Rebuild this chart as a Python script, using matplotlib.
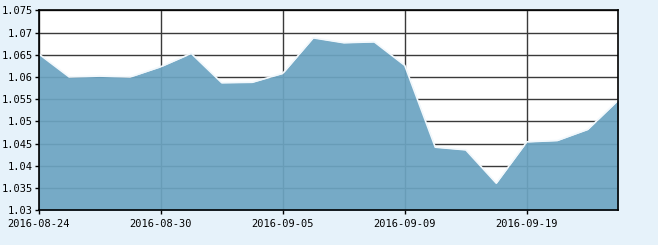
import matplotlib
matplotlib.use("Agg")
import matplotlib.pyplot as plt
from matplotlib.ticker import FuncFormatter, MultipleLocator

dates = ["2016-08-24", "2016-08-25", "2016-08-26", "2016-08-29", "2016-08-30",
         "2016-08-31", "2016-09-01", "2016-09-02", "2016-09-05", "2016-09-06",
         "2016-09-07", "2016-09-08", "2016-09-09", "2016-09-12", "2016-09-13",
         "2016-09-14", "2016-09-19", "2016-09-20", "2016-09-21", "2016-09-22"]
values = [1.0652, 1.0600, 1.0602, 1.0600, 1.0623, 1.0653, 1.0587, 1.0588, 1.0608, 1.0688,
          1.0677, 1.0679, 1.0626, 1.0442, 1.0436, 1.0361, 1.0454, 1.0457, 1.0482, 1.0548]
tick_labels = ["2016-08-24", "2016-08-30", "2016-09-05", "2016-09-09", "2016-09-19"]
y_min, y_max, y_step = 1.03, 1.075, 0.005

bg = "#E6F2FA"
fig = plt.figure(figsize=(6.58, 2.45), dpi=100, facecolor=bg)
ax = fig.add_axes([38.7/658, 1 - 210.3/245, (618.3-38.7)/658, (210.3-10.3)/245])
ax.set_facecolor("white")

x = list(range(len(dates)))
ax.fill_between(x, y_min, values, color="#6CA4C2", alpha=0.93, lw=0, zorder=3)
ax.plot(x, values, color="#F2F8FC", lw=1.2, zorder=4)

ax.set_xlim(0, len(dates) - 1)
ax.set_ylim(y_min, y_max)
ax.yaxis.set_major_locator(MultipleLocator(y_step))
ax.yaxis.set_major_formatter(FuncFormatter(lambda v, p: f"{round(v, 3):g}"))
ax.set_xticks([dates.index(d) for d in tick_labels])
ax.set_xticklabels(tick_labels)

ax.grid(True, color="#3a3a3a", lw=1, zorder=1)
ax.set_axisbelow(True)
for s in ax.spines.values():
    s.set_color("black")
    s.set_linewidth(1.2)
    s.set_zorder(5)

for lab in ax.get_xticklabels() + ax.get_yticklabels():
    lab.set_fontfamily("DejaVu Sans Mono")
    lab.set_fontsize(7.5)
    lab.set_color("black")
ax.tick_params(axis="both", length=3, width=1, color="black", pad=1)
ax.tick_params(axis="x", pad=3)

fig.savefig("out.png", dpi=100, facecolor=bg)
